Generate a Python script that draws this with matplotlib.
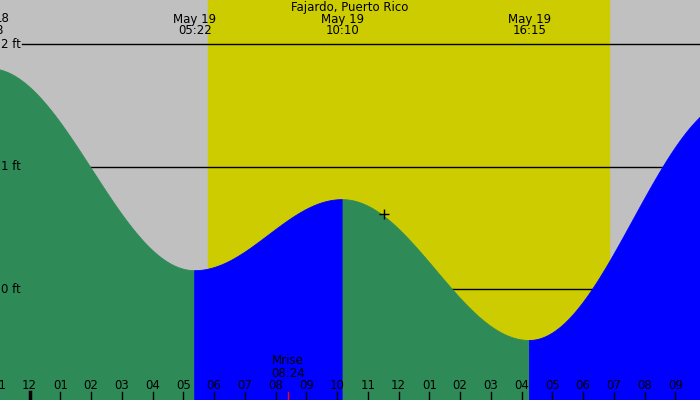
import numpy as np
import matplotlib
matplotlib.use("Agg")
import matplotlib.pyplot as plt

# tide extremes (hours from May 19 00:00, feet)
ext_t = [-1.3, 5.37, 10.17, 16.25, 23.0]
ext_h = [1.80, 0.15, 0.73, -0.42, 1.55]
labels_t = [5.37, 10.17, 16.25]
labels_s = ["May 19", "May 19", "May 19"]
labels_tm = ["05:22", "10:10", "16:15"]
sun_rise, sun_set = 5.8, 18.85
moon_rise = 8.4
ft_levels = [0, 1, 2]
title = "Fajardo, Puerto Rico"

x0, x1 = -0.96, 21.80
y0, y1 = -0.906, 2.36

t = np.linspace(x0, x1, 2000)
h = np.zeros_like(t)
rising = np.zeros_like(t, dtype=bool)
for i in range(len(ext_t) - 1):
    m = (t >= ext_t[i]) & (t <= ext_t[i + 1])
    f = (t[m] - ext_t[i]) / (ext_t[i + 1] - ext_t[i])
    h[m] = ext_h[i] + (ext_h[i + 1] - ext_h[i]) * (1 - np.cos(np.pi * f)) / 2
    rising[m] = ext_h[i + 1] > ext_h[i]

fig = plt.figure(figsize=(7, 4), dpi=100)
ax = fig.add_axes([0, 0, 1, 1])
ax.set_xlim(x0, x1)
ax.set_ylim(y0, y1)
ax.axis("off")
ax.axvspan(x0, x1, color="#c0c0c0", zorder=0)
ax.axvspan(sun_rise, sun_set, color="#cccc00", zorder=0)

for lv in ft_levels:
    ax.plot([x0 + 0.72, x1], [lv, lv], color="black", lw=1, zorder=1)
    ax.text(x0 + 0.68, lv, f"{lv} ft", ha="right", va="center", fontsize=8.5, zorder=5)

ax.fill_between(t, y0, h, where=~rising, color="#2e8b57", lw=0.6, ec="#2e8b57", zorder=2, interpolate=True)
ax.fill_between(t, y0, h, where=rising, color="#0000ff", lw=0.6, ec="#0000ff", zorder=2, interpolate=True)

tr = ax.get_xaxis_transform()
for lt, ls, lm in zip(labels_t, labels_s, labels_tm):
    ax.text(lt, 1 - 19 / 400, ls, ha="center", va="center", fontsize=8.5, transform=tr)
    ax.text(lt, 1 - 31 / 400, lm, ha="center", va="center", fontsize=8.5, transform=tr)
ax.text(x0 + 0.32, 1 - 19 / 400, "18", ha="right", va="center", fontsize=8.5, transform=tr)
ax.text(x0 + 0.1, 1 - 31 / 400, "8", ha="right", va="center", fontsize=8.5, transform=tr)
ax.text(350 / 30.75 + x0 - 0.0, 1 - 8 / 400, title, ha="center", va="center", fontsize=8.5, transform=tr)

for hr in range(-1, 22):
    lab = f"{(hr % 12) or 12:02d}"
    ax.text(hr, y0 + 0.12, lab, ha="center", va="center", fontsize=8.5, zorder=5)
    ax.plot([hr, hr], [y0, y0 + 0.065], color="black", lw=2.5 if hr == 0 else 1, zorder=5)

ax.plot([moon_rise, moon_rise], [y0, y0 + 0.065], color="red", lw=1, zorder=6)
ax.text(moon_rise, y0 + 0.32, "Mrise", ha="center", va="center", fontsize=8.5, zorder=6)
ax.text(moon_rise, y0 + 0.22, "08:24", ha="center", va="center", fontsize=8.5, zorder=6)

ax.plot([11.53], [0.61], marker="+", color="black", ms=7, mew=1, zorder=6)

fig.savefig("out.png", dpi=100)
